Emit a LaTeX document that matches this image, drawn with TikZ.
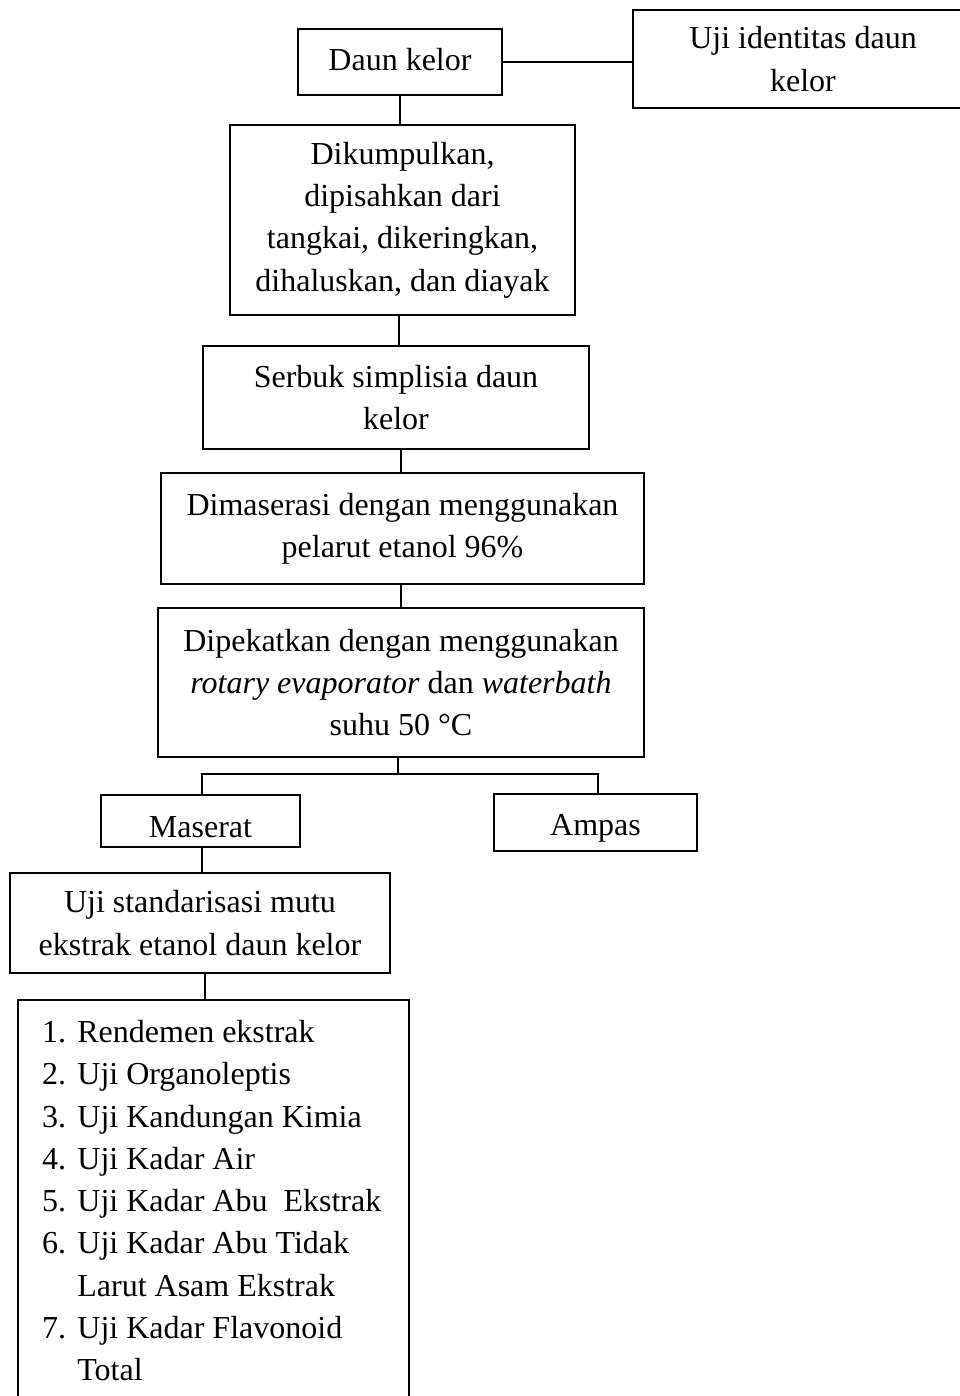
\documentclass[tikz,border=0pt]{standalone}
\usepackage{fontspec}
\setmainfont{Liberation Serif}
\begin{document}
\begin{tikzpicture}[x=1pt,y=-1pt,
  box/.style={draw=black,line width=1.3pt,rectangle,inner sep=0pt,align=center,
    font=\fontsize{32}{42.3}\selectfont},
  conn/.style={draw=black,line width=1.3pt}]
\useasboundingbox (0,0) rectangle (960,1396);
\clip (0,0) rectangle (960,1396);
\node[box,minimum width=204,minimum height=66] (daun) at (400,62) {\strut Daun kelor};
\node[box,minimum width=340,minimum height=98] (ident) at (803,59) {Uji identitas daun\\kelor};
\node[box,minimum width=345,minimum height=190] (kumpul) at (402.5,220) {Dikumpulkan,\\dipisahkan dari\\tangkai, dikeringkan,\\dihaluskan, dan diayak};
\node[box,minimum width=386,minimum height=103] (serbuk) at (396,397.5) {Serbuk simplisia daun\\kelor};
\node[box,minimum width=483,minimum height=111] (maser) at (402.5,528.5) {Dimaserasi dengan menggunakan\\pelarut etanol 96\%};
\node[box,minimum width=486,minimum height=149] (pekat) at (401,682.5) {Dipekatkan dengan menggunakan\\\textit{rotary evaporator} dan \textit{waterbath}\\suhu 50 °C};
\node[box,minimum width=199,minimum height=52] (maserat) at (200.5,821) {\smash{\raisebox{-16pt}{Maserat}}};
\node[box,minimum width=203,minimum height=57] (ampas) at (595.5,822.5) {\smash{\raisebox{-12.5pt}{Ampas}}};
\node[box,minimum width=380,minimum height=100] (ujistd) at (200,923) {Uji standarisasi mutu\\ekstrak etanol daun kelor};
\node[box,minimum width=391,minimum height=440] (list) at (213.5,1220) {};
\node[anchor=north west,inner sep=0pt,align=left,font=\fontsize{32}{42.3}\selectfont] (listtxt) at (42,1020)
{1.\hspace{0.35em}Rendemen ekstrak\\
2.\hspace{0.35em}Uji Organoleptis\\
3.\hspace{0.35em}Uji Kandungan Kimia\\
4.\hspace{0.35em}Uji Kadar Air\\
5.\hspace{0.35em}Uji Kadar Abu\ \ Ekstrak\\
6.\hspace{0.35em}Uji Kadar Abu Tidak\\
\phantom{6.}\hspace{0.35em}Larut Asam Ekstrak\\
7.\hspace{0.35em}Uji Kadar Flavonoid\\
\phantom{7.}\hspace{0.35em}Total};
\draw[conn] (daun.east) -- (ident.west |- daun.east);
\draw[conn] (daun.south) -- (kumpul.north -| daun.south);
\draw[conn] (kumpul.south -| 399,0) -- (serbuk.north -| 399,0);
\draw[conn] (serbuk.south -| 401,0) -- (maser.north -| 401,0);
\draw[conn] (maser.south -| 401,0) -- (pekat.north -| 401,0);
\coordinate (split) at (398,774);
\draw[conn] (pekat.south -| split) -- (split);
\draw[conn] (maserat.north -| 202,0) |- (split) -| (ampas.north -| 598,0);
\draw[conn] (maserat.south -| 202,0) -- (ujistd.north -| 202,0);
\draw[conn] (ujistd.south -| 205,0) -- (list.north -| 205,0);
\end{tikzpicture}
\end{document}
